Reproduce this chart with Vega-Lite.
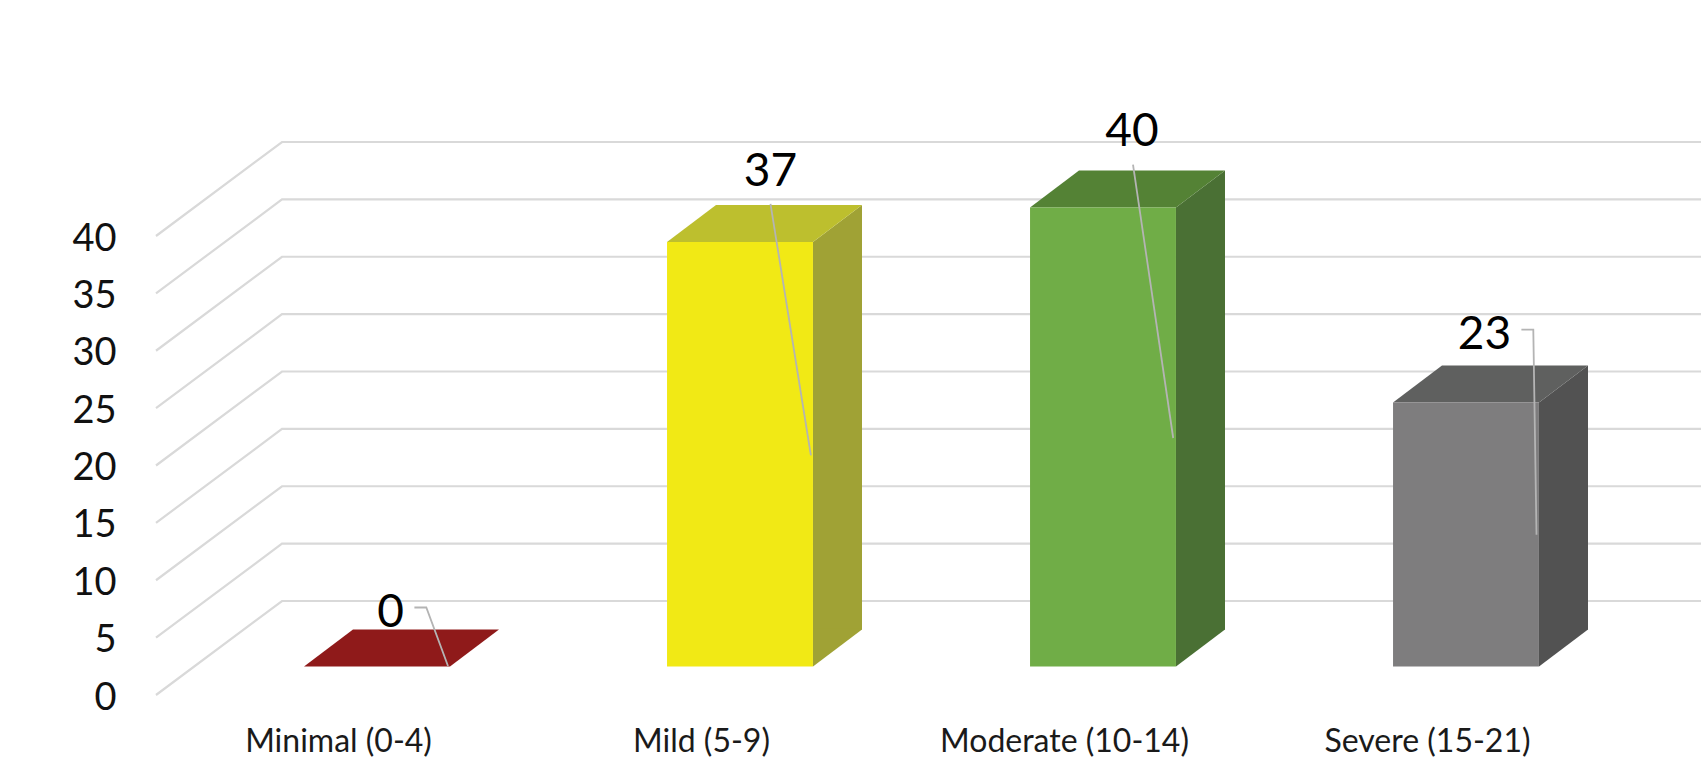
{
  "$schema": "https://vega.github.io/schema/vega-lite/v6.json",
  "autosize": {"type": "none"},
  "padding": {"left": 157, "top": 236, "right": 92, "bottom": 62},
  "width": 1452,
  "height": 459,
  "background": "white",
  "config": {"view": {"stroke": null}, "font": "Lato"},
  "datasets": {
    "scores": [
      {"category": "Minimal (0-4)", "value": 0},
      {"category": "Mild (5-9)", "value": 37},
      {"category": "Moderate (10-14)", "value": 40},
      {"category": "Severe (15-21)", "value": 23}
    ],
    "ticks": [
      {"tick": 0}, {"tick": 5}, {"tick": 10}, {"tick": 15}, {"tick": 20},
      {"tick": 25}, {"tick": 30}, {"tick": 35}, {"tick": 40}
    ]
  },
  "data": {"name": "scores"},
  "encoding": {
    "x": {
      "field": "category",
      "type": "nominal",
      "sort": null,
      "title": null,
      "scale": {
        "domain": ["Minimal (0-4)", "Mild (5-9)", "Moderate (10-14)", "Severe (15-21)"],
        "paddingInner": 0.598,
        "paddingOuter": 0.299
      },
      "axis": {
        "domain": false,
        "ticks": false,
        "grid": false,
        "labelAngle": 0,
        "labelFontSize": 32,
        "labelLimit": 400,
        "labelColor": "#1a1a1a",
        "labelBaseline": "middle",
        "labelPadding": 46
      }
    },
    "y": {
      "field": "value",
      "type": "quantitative",
      "title": null,
      "scale": {"domain": [0, 40], "nice": false},
      "axis": {
        "domain": false,
        "ticks": false,
        "grid": false,
        "values": [0, 5, 10, 15, 20, 25, 30, 35, 40],
        "labelFontSize": 38,
        "labelColor": "#111111",
        "labelPadding": 41,
        "labelOffset": 3
      }
    }
  },
  "layer": [
    {
      "description": "Floor-to-back-wall gridlines, one per axis tick",
      "data": {"name": "ticks"},
      "mark": {
        "type": "point",
        "filled": false,
        "opacity": 1,
        "size": 4,
        "stroke": "#d9d9d9",
        "strokeWidth": 2.2,
        "shape": "M-182.5 0L-56.5 -94L1362.5 -94"
      },
      "encoding": {
        "x": {"datum": "Minimal (0-4)"},
        "y": {"field": "tick", "type": "quantitative"}
      }
    },
    {
      "description": "Side face, main block",
      "transform": [{"filter": "datum.value > 0"}],
      "mark": {
        "type": "rect", "width": 49,
        "xOffset": 136, "yOffset": -28.5, "y2Offset": -65.5
      },
      "encoding": {
        "y2": {"datum": 0},
        "fill": {
          "field": "category", "type": "nominal", "legend": null,
          "scale": {"domain": ["Minimal (0-4)", "Mild (5-9)", "Moderate (10-14)", "Severe (15-21)"],
                    "range": ["#6b1414", "#a0a235", "#4a7034", "#525252"]}
        }
      }
    },
    {
      "description": "Side face, lower triangle, lapping slightly over the block",
      "transform": [{"filter": "datum.value > 0"}],
      "mark": {
        "type": "point", "filled": true, "opacity": 1, "size": 4, "strokeWidth": 0,
        "xOffset": 38.5, "yOffset": -28.5,
        "shape": "M73 0L73 -38L122 -38L122 -37Z"
      },
      "encoding": {
        "y": {"datum": 0},
        "fill": {
          "field": "category", "type": "nominal", "legend": null,
          "scale": {"domain": ["Minimal (0-4)", "Mild (5-9)", "Moderate (10-14)", "Severe (15-21)"],
                    "range": ["#6b1414", "#a0a235", "#4a7034", "#525252"]}
        }
      }
    },
    {
      "description": "Side face, upper triangle, lapping slightly over the block",
      "transform": [{"filter": "datum.value > 0"}],
      "mark": {
        "type": "point", "filled": true, "opacity": 1, "size": 4, "strokeWidth": 0,
        "xOffset": 38.5, "yOffset": -28.5,
        "shape": "M73 0L122 -37L122 1L73 1Z"
      },
      "encoding": {
        "fill": {
          "field": "category", "type": "nominal", "legend": null,
          "scale": {"domain": ["Minimal (0-4)", "Mild (5-9)", "Moderate (10-14)", "Severe (15-21)"],
                    "range": ["#6b1414", "#a0a235", "#4a7034", "#525252"]}
        }
      }
    },
    {
      "description": "Top face of each column",
      "mark": {
        "type": "point", "filled": true, "opacity": 1, "size": 4, "strokeWidth": 0,
        "xOffset": 38.5, "yOffset": -28.5,
        "shape": "M-73 0L73 0L122 -37L-24 -37Z"
      },
      "encoding": {
        "fill": {
          "field": "category", "type": "nominal", "legend": null,
          "scale": {"domain": ["Minimal (0-4)", "Mild (5-9)", "Moderate (10-14)", "Severe (15-21)"],
                    "range": ["#8f1a1a", "#bdbf2e", "#548235", "#5f605f"]}
        }
      }
    },
    {
      "description": "Front face of each column",
      "mark": {
        "type": "rect",
        "xOffset": 38.5, "yOffset": -28.5, "y2Offset": -28.5
      },
      "encoding": {
        "y2": {"datum": 0},
        "fill": {
          "field": "category", "type": "nominal", "legend": null,
          "scale": {"domain": ["Minimal (0-4)", "Mild (5-9)", "Moderate (10-14)", "Severe (15-21)"],
                    "range": ["#8f1a1a", "#f1e915", "#70ad47", "#7e7d7e"]}
        }
      }
    },
    {
      "description": "Leader lines from the data labels into the columns",
      "mark": {"type": "point", "filled": false, "opacity": 1, "size": 4, "stroke": "#b4b4b4", "strokeWidth": 1.8},
      "encoding": {
        "shape": {
          "field": "category", "type": "nominal", "legend": null,
          "scale": {
            "domain": ["Minimal (0-4)", "Mild (5-9)", "Moderate (10-14)", "Severe (15-21)"],
            "range": [
              "M75.9 -87.5L87.8 -87.5L109.5 -29",
              "M69 -66.6L109.4 185",
              "M68.5 -71.3L108.7 202",
              "M93.9 -101.4L105.8 -101.4L109 103.6"
            ]
          }
        }
      }
    },
    {
      "transform": [{"filter": "datum.category === 'Minimal (0-4)'"}],
      "mark": {"type": "text", "fontSize": 46, "color": "#000000", "dx": 52, "dy": -82, "baseline": "middle"},
      "encoding": {"text": {"field": "value", "type": "quantitative"}}
    },
    {
      "transform": [{"filter": "datum.category === 'Mild (5-9)'"}],
      "mark": {"type": "text", "fontSize": 46, "color": "#000000", "dx": 69, "dy": -98, "baseline": "middle"},
      "encoding": {"text": {"field": "value", "type": "quantitative"}}
    },
    {
      "transform": [{"filter": "datum.category === 'Moderate (10-14)'"}],
      "mark": {"type": "text", "fontSize": 46, "color": "#000000", "dx": 67.5, "dy": -104, "baseline": "middle"},
      "encoding": {"text": {"field": "value", "type": "quantitative"}}
    },
    {
      "transform": [{"filter": "datum.category === 'Severe (15-21)'"}],
      "mark": {"type": "text", "fontSize": 46, "color": "#000000", "dx": 57, "dy": -96, "baseline": "middle"},
      "encoding": {"text": {"field": "value", "type": "quantitative"}}
    }
  ],
  "resolve": {"scale": {"fill": "independent"}}
}
